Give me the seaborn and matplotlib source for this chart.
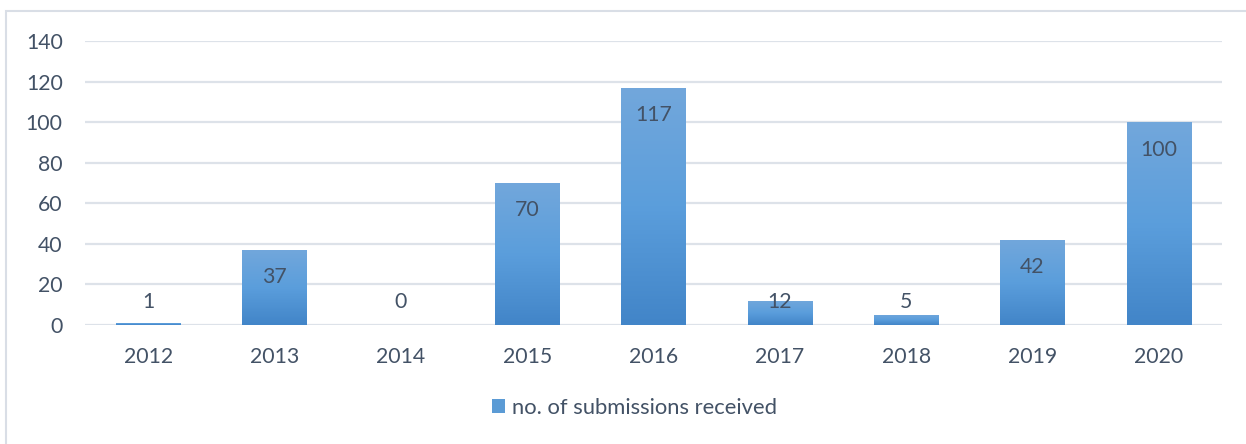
import numpy as np
import pandas as pd
import matplotlib.pyplot as plt
import seaborn as sns
from matplotlib.patches import Patch, Rectangle
from matplotlib.colors import LinearSegmentedColormap

# data
years = ["2012", "2013", "2014", "2015", "2016", "2017", "2018", "2019", "2020"]
submissions = [1, 37, 0, 70, 117, 12, 5, 42, 100]
series_name = "no. of submissions received"

df = pd.DataFrame({"year": years, "count": submissions})

text_c = "#435266"
grid_c = "#DDE2E9"

sns.set_style("white")
plt.rcParams["font.family"] = ["Lato", "DejaVu Sans"]

fig = plt.figure(figsize=(12.46, 4.44), dpi=100)
ax = fig.add_axes([0.0682, 0.268, 0.9125, 0.6397])

sns.barplot(data=df, x="year", y="count", ax=ax, width=0.51, color="#5B9BD5",
            edgecolor="none", zorder=3)

# gradient fill clipped to each bar
grad = LinearSegmentedColormap.from_list("xl", ["#4285C8", "#5B9EDC", "#72A7DB"])
for p in ax.patches:
    x0, y0 = p.get_x(), p.get_y()
    w, h = p.get_width(), p.get_height()
    if h <= 0:
        continue
    im = ax.imshow(np.linspace(0, 1, 100).reshape(-1, 1), cmap=grad, origin="lower",
                   extent=[x0, x0 + w, y0, y0 + h], aspect="auto", zorder=3)
    im.set_clip_path(p)
    p.set_facecolor("none")

ax.set_xlim(-0.5, len(years) - 0.5)
ax.set_ylim(0, 140)
ax.set_yticks(range(0, 141, 20))
ax.grid(axis="y", color=grid_c, linewidth=1.6, zorder=0)
ax.set_axisbelow(True)
for s in ax.spines.values():
    s.set_visible(False)
ax.set_xlabel("")
ax.set_ylabel("")
ax.tick_params(axis="x", length=0, pad=16, labelsize=15.3, labelcolor=text_c)
ax.tick_params(axis="y", length=0, pad=16, labelsize=15.3, labelcolor=text_c)

# data labels: inside end, pushed above for short bars
for i, v in enumerate(submissions):
    ax.text(i, max(v - 13.5, 11.5), str(v), ha="center", va="center",
            fontsize=15.3, color=text_c, zorder=5)

ax.legend(handles=[Patch(facecolor="#5B9BD5", edgecolor="none", label=series_name)],
          loc="center", bbox_to_anchor=(0.509, 0.081), bbox_transform=fig.transFigure,
          frameon=False, fontsize=15.8, labelcolor=text_c, handlelength=0.6,
          handleheight=0.6, handletextpad=0.3)

# chart area border
fig.patches.append(Rectangle((6 / 1246, -0.1), 1.2, 1 - 11 / 444 + 0.1,
                             transform=fig.transFigure, fill=False,
                             edgecolor="#D9DEE6", linewidth=1.5))

fig.savefig("out.png", dpi=100)
